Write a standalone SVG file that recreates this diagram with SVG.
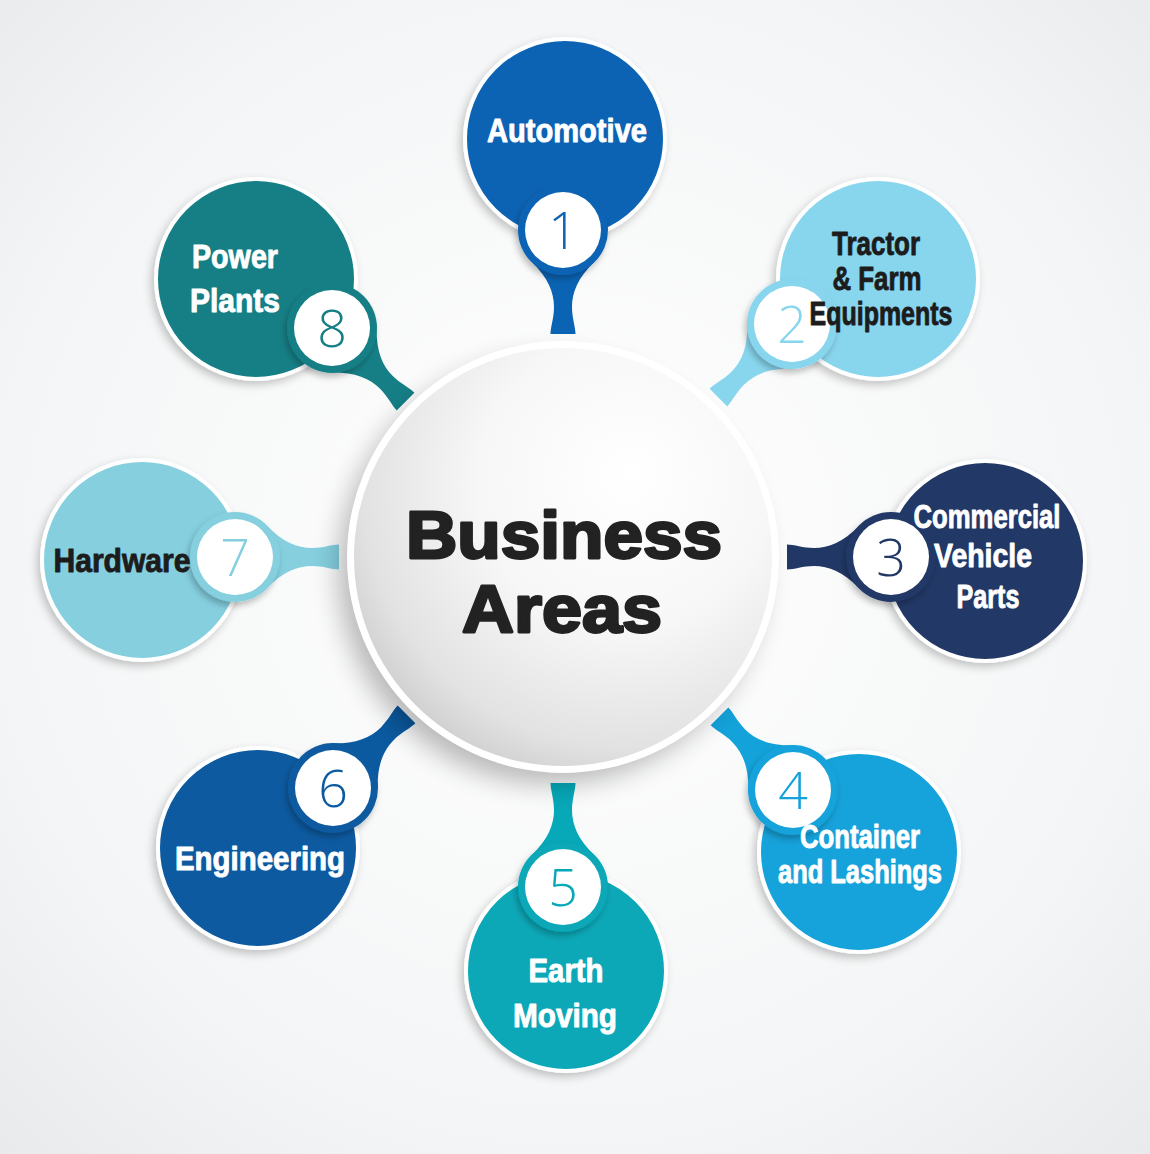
<svg xmlns="http://www.w3.org/2000/svg" xmlns:xlink="http://www.w3.org/1999/xlink" width="1150" height="1154" viewBox="0 0 1150 1154">
  <defs>
    <radialGradient id="bg" cx="0.5" cy="0.48" r="0.72">
      <stop offset="0" stop-color="#ffffff"/>
      <stop offset="0.7" stop-color="#f4f5f6"/>
      <stop offset="1" stop-color="#e9eaec"/>
    </radialGradient>
    <radialGradient id="sph" cx="0.64" cy="0.34" r="0.78" fx="0.66" fy="0.3">
      <stop offset="0" stop-color="#ffffff"/>
      <stop offset="0.45" stop-color="#f7f7f7"/>
      <stop offset="0.8" stop-color="#e2e2e2"/>
      <stop offset="1" stop-color="#c6c6c6"/>
    </radialGradient>
    <filter id="shadow" x="-20%" y="-20%" width="140%" height="140%">
      <feDropShadow dx="-3" dy="4" stdDeviation="4" flood-color="#000" flood-opacity="0.22"/>
    </filter>
    <filter id="ringShadow" x="-30%" y="-30%" width="160%" height="160%">
      <feDropShadow dx="-2" dy="4" stdDeviation="3" flood-color="#000" flood-opacity="0.25"/>
    </filter>
    <filter id="blur" x="-30%" y="-30%" width="160%" height="160%">
      <feGaussianBlur stdDeviation="14"/>
    </filter>
    <path id="stem" d="M -31,32 C -15,48 -9,62 -9,77 C -9,88 -12.5,97 -12.5,104 L 12.5,104 C 12.5,97 9,88 9,77 C 9,62 15,48 31,32 Z"/>
    <style>
      .main { stroke: #ffffff; stroke-width: 4; filter: url(#shadow); }
      .ring { filter: url(#ringShadow); }
      .white { fill: #ffffff; }
      .lbl { font-family: "Liberation Sans", Arial, sans-serif; font-weight: bold; font-size: 33px; text-anchor: middle; stroke-width: 0.9; stroke-linejoin: round; }
      .w { fill: #ffffff; stroke: #ffffff; }
      .d { fill: #1c1c1c; stroke: #1c1c1c; }
      .num { font-family: "Open Sans", Lato, "Liberation Sans", sans-serif; font-weight: 300; font-size: 52px; text-anchor: middle; }
      .title { font-family: "Liberation Sans", Arial, sans-serif; font-weight: bold; font-size: 66px; text-anchor: middle; fill: #222222; stroke: #222222; stroke-width: 2.8; stroke-linejoin: round; }
    </style>
  </defs>

  <rect x="0" y="0" width="1150" height="1154" fill="url(#bg)"/>

  <g id="connectors">
    <use xlink:href="#stem" href="#stem" transform="translate(563,230) rotate(0)" fill="#0b63b3"/>
    <use xlink:href="#stem" href="#stem" transform="translate(792,324) rotate(45)" fill="#88d6ee"/>
    <use xlink:href="#stem" href="#stem" transform="translate(891,557) rotate(90)" fill="#213866"/>
    <use xlink:href="#stem" href="#stem" transform="translate(793,790) rotate(135)" fill="#13a2da"/>
    <use xlink:href="#stem" href="#stem" transform="translate(563,887) rotate(180)" fill="#07a8b8"/>
    <use xlink:href="#stem" href="#stem" transform="translate(333,788) rotate(225)" fill="#0b5aa0"/>
    <use xlink:href="#stem" href="#stem" transform="translate(235,557) rotate(270)" fill="#85cfdf"/>
    <use xlink:href="#stem" href="#stem" transform="translate(332,328) rotate(315)" fill="#167f86"/>
  </g>

  <g id="node-1">
    <circle class="main" cx="565" cy="139" r="100" fill="#0b63b3"/>
    <circle class="ring" cx="563" cy="230" r="45" fill="#0b63b3"/>
    <circle class="white" cx="563" cy="230" r="38"/>
    <text class="num" x="563" y="249" fill="#0b63b3">1</text>
    <text class="lbl w" x="567" y="142" textLength="160" lengthAdjust="spacingAndGlyphs">Automotive</text>
  </g>

  <g id="node-2">
    <circle class="main" cx="878" cy="279" r="100" fill="#88d6ee"/>
    <circle class="ring" cx="792" cy="324" r="45" fill="#88d6ee"/>
    <circle class="white" cx="792" cy="324" r="38"/>
    <text class="num" x="792" y="343" fill="#88d6ee">2</text>
    <text class="lbl d" x="876" y="255" textLength="88" lengthAdjust="spacingAndGlyphs">Tractor</text>
    <text class="lbl d" x="877" y="290" textLength="89" lengthAdjust="spacingAndGlyphs">&amp; Farm</text>
    <text class="lbl d" x="881" y="325" textLength="143" lengthAdjust="spacingAndGlyphs">Equipments</text>
  </g>

  <g id="node-3">
    <circle class="main" cx="985" cy="561" r="100" fill="#213866"/>
    <circle class="ring" cx="891" cy="557" r="45" fill="#213866"/>
    <circle class="white" cx="891" cy="557" r="38"/>
    <text class="num" x="891" y="576" fill="#213866">3</text>
    <text class="lbl w" x="987" y="528" textLength="147" lengthAdjust="spacingAndGlyphs">Commercial</text>
    <text class="lbl w" x="983" y="567" textLength="98" lengthAdjust="spacingAndGlyphs">Vehicle</text>
    <text class="lbl w" x="988" y="608" textLength="63" lengthAdjust="spacingAndGlyphs">Parts</text>
  </g>

  <g id="node-4">
    <circle class="main" cx="859" cy="852" r="100" fill="#13a2da"/>
    <circle class="ring" cx="793" cy="790" r="45" fill="#13a2da"/>
    <circle class="white" cx="793" cy="790" r="38"/>
    <text class="num" x="793" y="809" fill="#13a2da">4</text>
    <text class="lbl w" x="860" y="848" textLength="120" lengthAdjust="spacingAndGlyphs">Container</text>
    <text class="lbl w" x="860" y="883" textLength="164" lengthAdjust="spacingAndGlyphs">and Lashings</text>
  </g>

  <g id="node-5">
    <circle class="main" cx="566" cy="971" r="100" fill="#07a8b8"/>
    <circle class="ring" cx="563" cy="887" r="45" fill="#07a8b8"/>
    <circle class="white" cx="563" cy="887" r="38"/>
    <text class="num" x="563" y="906" fill="#07a8b8">5</text>
    <text class="lbl w" x="566" y="982" textLength="75" lengthAdjust="spacingAndGlyphs">Earth</text>
    <text class="lbl w" x="565" y="1027" textLength="104" lengthAdjust="spacingAndGlyphs">Moving</text>
  </g>

  <g id="node-6">
    <circle class="main" cx="258" cy="848" r="100" fill="#0b5aa0"/>
    <circle class="ring" cx="333" cy="788" r="45" fill="#0b5aa0"/>
    <circle class="white" cx="333" cy="788" r="38"/>
    <text class="num" x="333" y="807" fill="#0b5aa0">6</text>
    <text class="lbl w" x="260" y="870" textLength="170" lengthAdjust="spacingAndGlyphs">Engineering</text>
  </g>

  <g id="node-7">
    <circle class="main" cx="142" cy="560" r="100" fill="#85cfdf"/>
    <circle class="ring" cx="235" cy="557" r="45" fill="#85cfdf"/>
    <circle class="white" cx="235" cy="557" r="38"/>
    <text class="num" x="235" y="576" fill="#85cfdf">7</text>
    <text class="lbl d" x="122" y="572" textLength="137" lengthAdjust="spacingAndGlyphs">Hardware</text>
  </g>

  <g id="node-8">
    <circle class="main" cx="256" cy="279" r="100" fill="#167f86"/>
    <circle class="ring" cx="332" cy="328" r="45" fill="#167f86"/>
    <circle class="white" cx="332" cy="328" r="38"/>
    <text class="num" x="332" y="347" fill="#167f86">8</text>
    <text class="lbl w" x="235" y="268" textLength="86" lengthAdjust="spacingAndGlyphs">Power</text>
    <text class="lbl w" x="235" y="312" textLength="90" lengthAdjust="spacingAndGlyphs">Plants</text>
  </g>

  <g id="center">
    <circle cx="551" cy="571" r="212" fill="#000000" opacity="0.28" filter="url(#blur)"/>
    <circle cx="563" cy="557" r="216" fill="#ffffff"/>
    <circle cx="563" cy="557" r="209" fill="url(#sph)"/>
    <text class="title" x="564" y="558" textLength="316" lengthAdjust="spacingAndGlyphs">Business</text>
    <text class="title" x="562" y="632" textLength="200" lengthAdjust="spacingAndGlyphs">Areas</text>
  </g>
</svg>
